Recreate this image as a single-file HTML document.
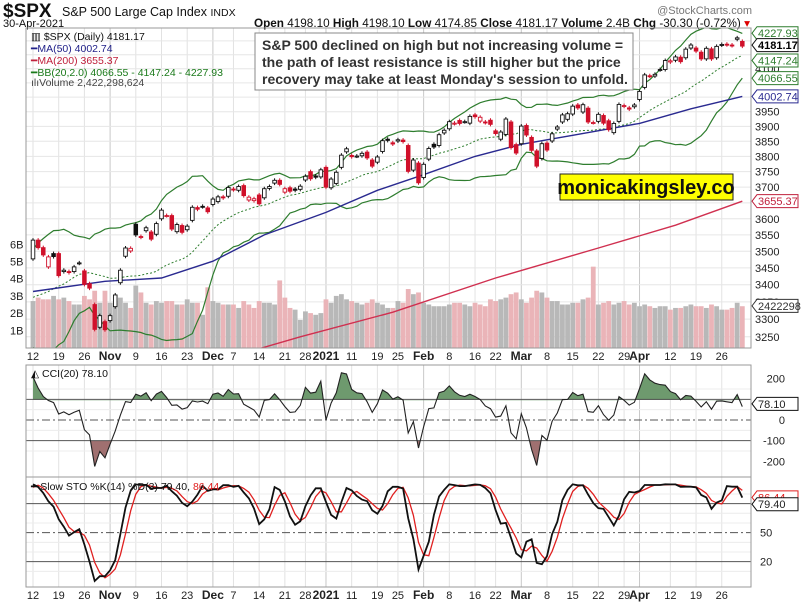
<!DOCTYPE html>
<html><head><meta charset="utf-8"><style>
body{margin:0;background:#fff}
svg{display:block;font-family:"Liberation Sans",Arial,sans-serif}
</style></head><body>
<svg id="c" width="803" height="604" viewBox="0 0 803 604" xmlns="http://www.w3.org/2000/svg">
<defs>
<clipPath id="pclip"><rect x="26" y="28" width="725" height="320"/></clipPath>
<clipPath id="cciUp"><rect x="26" y="365" width="725" height="35.3"/></clipPath>
<clipPath id="cciDn"><rect x="26" y="440.7" width="725" height="36"/></clipPath>
<clipPath id="cclip"><rect x="26" y="365" width="725" height="112"/></clipPath>
<clipPath id="sclip"><rect x="26" y="477" width="725" height="110"/></clipPath>
</defs>
<text x="3" y="17" font-size="19" font-weight="bold" fill="#111">$SPX</text>
<text x="62" y="16" font-size="12.5" fill="#111">S&amp;P 500 Large Cap Index <tspan font-size="10.5">INDX</tspan></text>
<text x="3" y="27" font-size="11" fill="#111">30-Apr-2021</text>
<text x="752" y="14" font-size="11" fill="#777" text-anchor="end">@StockCharts.com</text>
<text x="254" y="27" font-size="11.5" fill="#111" textLength="496" lengthAdjust="spacingAndGlyphs"><tspan font-weight="bold">Open</tspan> 4198.10 <tspan font-weight="bold">High</tspan> 4198.10 <tspan font-weight="bold">Low</tspan> 4174.85 <tspan font-weight="bold">Close</tspan> 4181.17 <tspan font-weight="bold">Volume</tspan> 2.4B <tspan font-weight="bold">Chg</tspan> -30.30 (-0.72%) <tspan fill="#d00">▾</tspan></text>
<g id="grid"></g>
<g id="vol" clip-path="url(#pclip)"></g>
<g id="price" clip-path="url(#pclip)"></g>
<g id="cci"></g>
<g id="sto"></g>
<g id="frames"></g>
<g id="labels"></g>
<g font-family="Liberation Sans, sans-serif" font-size="10.5">
<text x="31" y="40" fill="#111">▥ $SPX (Daily) 4181.17</text>
<text x="31" y="52" fill="#22228a">━MA(50) 4002.74</text>
<text x="31" y="64" fill="#c0203c">━MA(200) 3655.37</text>
<text x="31" y="76" fill="#1a7a1a">━BB(20,2.0) 4066.55 - 4147.24 - 4227.93</text>
<text x="31" y="86" fill="#444">ılıVolume 2,422,298,624</text>
<text x="31" y="377" fill="#111">◭ CCI(20) 78.10</text>
<text x="31" y="490" fill="#111">━ Slow STO %K(14) %D(3) 79.40, <tspan fill="#e02020">86.44</tspan></text>
</g>
<g>
<rect x="255" y="33" width="378" height="57" fill="#fff" stroke="#888"/>
<text x="262" y="50" font-size="14" font-weight="bold" fill="#333">S&amp;P 500 declined on high but not increasing volume =</text>
<text x="262" y="67" font-size="14" font-weight="bold" fill="#333">the path of least resistance is still higher but the price</text>
<text x="262" y="84" font-size="14" font-weight="bold" fill="#333">recovery may take at least Monday's session to unfold.</text>
</g>
<g>
<rect x="560" y="174" width="173" height="26" fill="#ffff00" stroke="#222"/>
<text x="646" y="194" font-size="20" font-weight="bold" fill="#111" text-anchor="middle">monicakingsley.co</text>
</g>
</svg>
<script>
const pre=[3401,3385,3357,3319,3281,3315,3237,3246,3298,3351,3335,3363,3381,3348,3408,3361,3419,3447,3477];
const closes=[3534,3511,3489,3483,3484,3427,3443,3436,3453,3465,3401,3390,3271,3310,3270,
3310,3370,3443,3510,3509,3550,3545,3572,3537,3585,3627,3610,3568,3582,3558,3577,3636,3630,3638,3622,
3662,3669,3666,3699,3692,3702,3673,3668,3663,3647,3695,3702,3722,3709,3695,3687,3690,3703,3735,3727,3732,3756,
3700,3726,3748,3804,3825,3799,3801,3810,3795,3768,3798,3852,3853,3841,3855,3849,3751,3788,3714,
3774,3826,3831,3872,3887,3916,3911,3910,3916,3934,3933,3931,3913,3907,3876,3881,3925,3829,3811,
3901,3871,3820,3768,3842,3821,3875,3898,3939,3943,3969,3963,3974,3915,3913,3941,3911,3889,3910,3975,3971,3959,3973,
4020,4078,4074,4080,4097,4129,4128,4142,4125,4170,4185,4163,4135,4173,4135,4180,4187,4186,4183,4211,4181];
const opens=[3477,3534,3511,3453,3493,3493,3439,3439,3439,3464,3441,3403,3342,3277,3293,
3296,3336,3406,3485,3501,3583,3543,3563,3559,3552,3600,3610,3610,3560,3579,3566,3595,3635,3639,3634,
3645,3654,3669,3671,3694,3690,3705,3659,3657,3675,3666,3696,3713,3722,3684,3698,3694,3693,3723,3750,3736,3733,
3764,3698,3712,3764,3815,3803,3801,3802,3814,3788,3781,3816,3857,3845,3851,3854,3836,3755,3778,
3731,3791,3840,3836,3878,3892,3910,3920,3916,3911,3939,3918,3915,3921,3885,3857,3873,3915,3839,
3842,3903,3863,3818,3793,3844,3851,3891,3915,3924,3942,3973,3949,3962,3913,3917,3937,3919,3879,3917,3969,3963,3967,
3992,4034,4075,4074,4096,4097,4124,4130,4141,4139,4174,4174,4159,4135,4171,4139,4185,4188,4185,4206,4198];
const volumes=[2.7,2.9,2.8,2.8,3.0,2.8,2.9,2.7,2.5,2.5,3.0,2.8,3.3,2.6,3.3,
2.6,2.6,2.9,2.6,2.3,3.6,3.2,2.6,2.5,2.7,2.6,2.7,2.7,2.5,2.5,2.8,2.6,2.6,1.9,3.5,
2.7,2.6,2.5,2.5,2.5,2.3,2.7,2.5,2.3,2.7,2.6,2.6,2.5,3.9,2.9,2.3,2.2,1.6,2.1,2.0,1.9,2.0,
2.8,2.6,3.0,3.1,2.8,2.7,2.6,2.5,2.6,2.8,2.6,2.5,2.3,2.3,2.7,2.6,3.4,3.1,3.2,
2.6,2.5,2.4,2.4,2.4,2.5,2.6,2.6,2.5,2.4,2.6,2.5,2.4,2.8,2.7,2.8,2.9,3.1,3.2,
2.8,2.6,2.9,3.3,3.2,2.9,2.7,2.7,2.5,2.5,2.6,2.6,2.8,2.9,4.7,2.5,2.6,2.7,2.5,2.6,2.7,2.5,2.6,
2.4,2.5,2.4,2.3,2.4,2.4,2.2,2.3,2.3,2.4,2.5,2.4,2.4,2.3,2.5,2.4,2.2,2.2,2.3,2.6,2.4];
const ma50Idx=[0,14,25,35,45,57,67,76,86,95,105,118,128,138];
const ma50Val=[3380,3410,3420,3470,3550,3620,3690,3740,3800,3840,3870,3910,3960,4002.74];
const ma200Idx=[40,52,70,90,110,125,138];
const ma200Val=[3200,3250,3320,3420,3510,3580,3655.37];
const dateIdx=[0,5,10,15,20,25,30,35,39,44,49,53,57,62,67,71,76,81,86,90,95,100,105,110,115,118,124,129,134];
const dateLbl=["12","19","26","Nov","9","16","23","Dec","7","14","21","28","2021","11","19","25","Feb","8","16","22","Mar","8","15","22","29","Apr","12","19","26"];
const priceTicks=[3250,3300,3350,3400,3450,3500,3550,3600,3650,3700,3750,3800,3850,3900,3950,4000,4050,4100,4150,4200];
const priceTickLbl=[3250,3300,3350,3400,3450,3500,3550,3600,3700,3750,3800,3850,3900,3950,4100];
const volTicks=[1,2,3,4,5,6];
const cciTicks=[200,100,0,-100,-200];
const stoTicks=[80,50,20];

const NS="http://www.w3.org/2000/svg";
const X=i=>33+i*5.14;
const PY=p=>111.7-(Math.log(p)-Math.log(3950))*1154;
const VY=v=>347.5-v*17.2;
const CY=v=>420-0.2067*v;
const SY=v=>581-0.967*v;
function mk(parent,tag,attrs){const e=document.createElementNS(NS,tag);for(const k in attrs)e.setAttribute(k,attrs[k]);document.getElementById(parent).appendChild(e);return e;}

for(let k=0;k<dateIdx.length;k++){
  const x=X(dateIdx[k]);const bold=isNaN(+dateLbl[k])||dateLbl[k]==="2021";
  for(const [a,b] of [[28,348],[365,477],[477,587]]){
    const l=mk('grid','line',{x1:x,x2:x,y1:a,y2:b,stroke:bold?'#c8c8c8':'#e2e2e2','stroke-width':1});
    
    
  }
}
for(const p of priceTicks){const l=mk('grid','line',{x1:26,x2:751,y1:PY(p),y2:PY(p),stroke:'#e6e6e6'});
  
  }
for(const v of [150,50,-50,-150]){const l=mk('grid','line',{x1:26,x2:751,y1:CY(v),y2:CY(v),stroke:'#ececec'});
  
  }
for(const v of [10,30,40,60,70,90]){const l=mk('grid','line',{x1:26,x2:751,y1:SY(v),y2:SY(v),stroke:'#ececec'});
  
  }

for(let i=0;i<closes.length;i++){
  const prev=i?closes[i-1]:pre[pre.length-1];
  const r=mk('vol','rect',{x:X(i)-2.4,y:VY(volumes[i]),width:4.8,height:347.5-VY(volumes[i]),fill:closes[i]<prev?'#eab4b8':'#b8b8b8'});
  
  
}
const all=pre.concat(closes);const P=pre.length;
function sma(i,n){let s=0;for(let k=i-n+1;k<=i;k++)s+=all[k];return s/n;}
const bbU=[],bbM=[],bbL=[],cci=[];
for(let i=0;i<closes.length;i++){
  const j=i+P;const m=sma(j,20);let sd=0,md=0;
  for(let k=j-19;k<=j;k++){sd+=(all[k]-m)**2;md+=Math.abs(all[k]-m);}
  sd=Math.sqrt(sd/20);md/=20;
  bbM.push(m);bbU.push(m+2*sd);bbL.push(m-2*sd);
  cci.push(md?(all[j]-m)/(0.015*md):0);
}
const fk=[];for(let j=13;j<all.length;j++){let hi=-1e9,lo=1e9;for(let k=j-13;k<=j;k++){hi=Math.max(hi,all[k]);lo=Math.min(lo,all[k]);}fk[j]=hi>lo?(all[j]-lo)/(hi-lo)*100:50;}
const sk=[];for(let j=15;j<all.length;j++)sk[j]=(fk[j]+fk[j-1]+fk[j-2])/3;
const stoK=[],stoD=[];for(let i=0;i<closes.length;i++){const j=i+P;stoK.push(sk[j]);stoD.push((sk[j]+sk[j-1]+sk[j-2])/3);}

function poly(parent,xs,ys,attrs,name){const pts=xs.map((x,k)=>x.toFixed(1)+','+ys[k].toFixed(1)).join(' ');
  const e=mk(parent,'polyline',Object.assign({points:pts,fill:'none'},attrs));
  
  return e;}
const idx=closes.map((_,i)=>X(i));
poly('price',idx,bbU.map(PY),{stroke:'#2e7d2e','stroke-width':1.2},'bb-upper');
poly('price',idx,bbL.map(PY),{stroke:'#2e7d2e','stroke-width':1.2},'bb-lower');
poly('price',idx,bbM.map(PY),{stroke:'#2e7d2e','stroke-width':1,'stroke-dasharray':'2,2'},'bb-middle');
poly('price',ma50Idx.map(X),ma50Val.map(PY),{stroke:'#2a2a90','stroke-width':1.4},'ma50-line');
poly('price',ma200Idx.map(X),ma200Val.map(PY),{stroke:'#d03050','stroke-width':1.4},'ma200-line');
for(let i=0;i<closes.length;i++){
  const o=opens[i],c=closes[i],prev=i?closes[i-1]:pre[pre.length-1];
  const col=c<prev?'#d0102a':'#111';
  const hi=PY(Math.max(o,c)),lo=PY(Math.min(o,c));
  const w=mk('price','line',{x1:X(i),x2:X(i),y1:hi-2,y2:lo+2,stroke:col});
  
  
  const r=mk('price','rect',{x:X(i)-1.8,y:hi,width:3.6,height:Math.max(lo-hi,1),fill:c>=o?'#fff':col,stroke:col,'stroke-width':0.9});
  
  
}
const cy=cci.map(CY);
const areaPts=[[X(0),400]].concat(idx.map((x,k)=>[x,cy[k]])).concat([[X(closes.length-1),400]]);
const a1=mk('cci','polygon',{points:areaPts.map(p=>p.join(',')).join(' '),fill:'#6e9a6e','clip-path':'url(#cciUp)'});


const areaPts2=[[X(0),440.7]].concat(idx.map((x,k)=>[x,cy[k]])).concat([[X(closes.length-1),440.7]]);
const a2=mk('cci','polygon',{points:areaPts2.map(p=>p.join(',')).join(' '),fill:'#a07070','clip-path':'url(#cciDn)'});


for(const [v,d] of [[100,''],[0,'8,3,2,3'],[-100,'']]){const l=mk('cci','line',{x1:26,x2:751,y1:CY(v),y2:CY(v),stroke:'#555','stroke-dasharray':d});
  
  }
poly('cci',idx,cy,{stroke:'#222','stroke-width':1.1,'clip-path':'url(#cclip)'},'cci-line');
for(const [v,d] of [[80,''],[50,'8,3,2,3'],[20,'']]){const l=mk('sto','line',{x1:26,x2:751,y1:SY(v),y2:SY(v),stroke:'#555','stroke-dasharray':d});
  
  }
poly('sto',idx,stoD.map(SY),{stroke:'#e02020','stroke-width':1.3,'clip-path':'url(#sclip)'},'sto-d-line');
poly('sto',idx,stoK.map(SY),{stroke:'#111','stroke-width':1.8,'clip-path':'url(#sclip)'},'sto-k-line');
for(const [a,b] of [[28,348],[365,477],[477,587]]){const r=mk('frames','rect',{x:26,y:a,width:725,height:b-a,fill:'none',stroke:'#999'});
  
  }
function txt(x,y,s,attrs,name){const t=mk('labels','text',Object.assign({x:x,y:y,'font-size':11,fill:'#222'},attrs));t.textContent=s;
  
  return t;}
for(let k=0;k<dateIdx.length;k++){
  const bold=isNaN(+dateLbl[k])||dateLbl[k]==="2021";
  for(const y of [360,599]) txt(X(dateIdx[k]),y,dateLbl[k],{'text-anchor':'middle','font-weight':bold?'bold':'normal','font-size':bold?12:11},'date-label');
}
for(const p of priceTickLbl) txt(755,PY(p)+4,String(p),{},'price-tick');
for(const v of volTicks) txt(10,VY(v)+4,v+'B',{},'volume-tick');
for(const v of [200,0,-100,-200]) txt(785,CY(v)+4,String(v),{'text-anchor':'end'},'cci-tick');
for(const v of [50,20]) txt(760,SY(v)+4,String(v),{},'sto-tick');
function tag(y,s,col,bold,name){
  const g=mk('labels','path',{d:`M752 ${y} l5 -6.5 h41 v13 h-41 z`,fill:'#fff',stroke:col});
  
  
  txt(758,y+4,s,{fill:bold?'#000':col==='#111'?'#222':col,'font-weight':bold?'bold':'normal'},name);
}
tag(PY(4227.93),'4227.93','#2e7d2e',false,'bb-upper-value');
tag(PY(4147.24)+5,'4147.24','#2e7d2e',false,'bb-middle-value');
tag(PY(4181.17)-1,'4181.17','#111',true,'close-value');
tag(PY(4066.55),'4066.55','#2e7d2e',false,'bb-lower-value');
tag(PY(4002.74),'4002.74','#2a2a90',false,'ma50-value');
tag(PY(3655.37),'3655.37','#c0203c',false,'ma200-value');
tag(VY(2.42),'2422298','#333',false,'volume-value');
tag(CY(78.1),'78.10','#111',false,'cci-value');
tag(SY(86.44),'86.44','#e02020',false,'sto-d-value');
tag(SY(79.40),'79.40','#111',false,'sto-k-value');
</script>
</body></html>
